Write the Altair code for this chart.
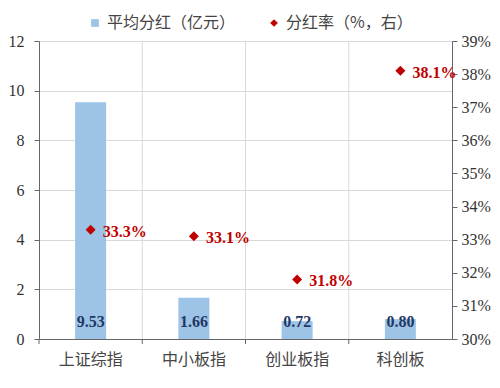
import altair as alt
import pandas as pd

categories = ["上证综指", "中小板指", "创业板指", "科创板"]
avg_dividend = [9.53, 1.66, 0.72, 0.80]
dividend_rate = [33.3, 33.1, 31.8, 38.1]
series_names = ["平均分红（亿元）", "分红率（%，右）"]

df = pd.DataFrame({
    "cat": categories,
    "avg": avg_dividend,
    "rate": dividend_rate,
    "avg_label": [f"{v:.2f}" for v in avg_dividend],
    "rate_label": [f"{v:.1f}%" for v in dividend_rate],
    "s_bar": series_names[0],
    "s_pt": series_names[1],
})

BLUE = "#9DC3E6"
RED = "#C00000"
NAVY = "#1F3864"
SERIF = "Liberation Serif"
CJK = "Noto Sans CJK SC"
H = 298

x_axis = alt.Axis(labelAngle=0, labelFont=CJK, labelFontSize=16, labelColor="#444",
                  ticks=False, domainColor="#666", labelPadding=12, grid=False)

def xenc():
    return alt.X("cat:N", sort=categories, title=None, axis=x_axis)

color_scale = alt.Scale(domain=series_names, range=[BLUE, RED])
shape_scale = alt.Scale(domain=series_names, range=["square", "diamond"])
legend = alt.Legend(title=None, orient="none", legendX=48, legendY=-26, direction="horizontal",
                    labelFont=CJK, labelFontSize=16, labelColor="#444", symbolSize=60,
                    columnPadding=30, symbolStrokeWidth=0)

left_scale = alt.Scale(domain=[0, 12], nice=False)
right_scale = alt.Scale(domain=[30, 39], nice=False)

left_axis = alt.Axis(values=[0, 2, 4, 6, 8, 10, 12], labelFont=SERIF, labelFontSize=16,
                     labelColor="#333", domainColor="#666", tickColor="#666",
                     tickSize=5, labelPadding=10, gridColor="#D9D9D9", grid=True)
right_axis = alt.Axis(orient="right", values=list(range(30, 40)), labelExpr="datum.value + '%'",
                      labelFont=SERIF, labelFontSize=16, labelColor="#333",
                      domainColor="#666", tickColor="#666", tickSize=5,
                      labelPadding=4, grid=False, labelOverlap=False)

base = alt.Chart(df)

vgrid = base.transform_filter(alt.datum.cat != categories[0]).mark_rule(color="#D9D9D9", strokeWidth=1).encode(
    x=alt.X("cat:N", sort=categories, bandPosition=0, title=None, axis=x_axis)
)

xticks = base.mark_rule(color="#666", strokeWidth=1).encode(
    x=alt.X("cat:N", sort=categories, bandPosition=0, title=None, axis=x_axis),
    y=alt.value(H), y2=alt.value(H + 5),
)

bars = base.mark_bar(size=31).encode(
    x=xenc(),
    y=alt.Y("avg:Q", scale=left_scale, title=None, axis=left_axis),
    color=alt.Color("s_bar:N", scale=color_scale, legend=legend),
)

bar_text = base.mark_text(font=SERIF, fontSize=16, fontWeight="bold", color=NAVY,
                          baseline="middle", dy=-17).encode(
    x=xenc(),
    y=alt.Y(datum=0, scale=left_scale, title=None, axis=left_axis),
    text="avg_label:N",
)

left_layer = alt.layer(vgrid, bars, bar_text, xticks)

points = base.mark_point(filled=True, size=100, opacity=1).encode(
    x=xenc(),
    y=alt.Y("rate:Q", scale=right_scale, title=None, axis=right_axis),
    color=alt.Color("s_pt:N", scale=color_scale, legend=legend),
    shape=alt.Shape("s_pt:N", scale=shape_scale, legend=legend),
)

pt_text = base.mark_text(font=SERIF, fontSize=16, fontWeight="bold", color=RED,
                         align="left", baseline="middle", dx=12, dy=2).encode(
    x=xenc(),
    y=alt.Y("rate:Q", scale=right_scale, title=None, axis=right_axis),
    text="rate_label:N",
)

right_layer = alt.layer(points, pt_text)

chart = alt.layer(left_layer, right_layer).resolve_scale(y="independent").properties(
    width=413, height=H,
    padding={"left": 0, "top": 7, "right": 0, "bottom": 6},
).configure(font=SERIF).configure_view(stroke=None).configure_axis(
    labelFont=SERIF, labelFontSize=16
).configure_axisX(labelFont=CJK, labelFontSize=16)

chart.save("out.html", embed_options={"renderer": "svg", "actions": False})
